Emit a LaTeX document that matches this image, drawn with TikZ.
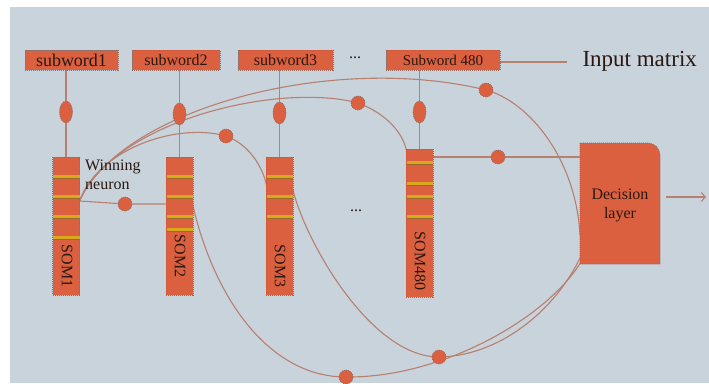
\documentclass[tikz,border=0pt]{standalone}
\usepackage{fontspec}
\setmainfont{Liberation Serif}
\usetikzlibrary{arrows.meta,shapes.geometric}
\definecolor{bgc}{HTML}{C8D3DB}
\definecolor{boxc}{HTML}{DA6040}
\definecolor{bordc}{HTML}{8E6A62}
\definecolor{linec}{HTML}{B8806F}
\definecolor{txtc}{HTML}{2A1812}
\definecolor{goldc}{HTML}{D9A81C}
\definecolor{golddk}{HTML}{9A6A2A}
\pgfdeclarelayer{bglayer}
\pgfdeclarelayer{lines}
\pgfsetlayers{bglayer,lines,main}
\begin{document}
\begin{tikzpicture}[x=1pt,y=-1pt,
  box/.style={rectangle,fill=boxc,draw=bordc,dash pattern=on 1pt off 1pt,line width=0.6pt,inner sep=0pt,text=txtc},
  ell/.style={ellipse,fill=boxc,draw=bordc,dash pattern=on 1pt off 1pt,line width=0.6pt,minimum width=13pt,minimum height=22pt,inner sep=0pt},
  dotn/.style={circle,fill=boxc,draw=bordc,dash pattern=on 1pt off 1pt,line width=0.6pt,minimum size=14pt,inner sep=0pt},
  somcol/.style={box,minimum width=27pt},
  conn/.style={draw=linec,line width=1.1pt},
  bar/.style={draw=goldc,line width=3pt},
  bardk/.style={draw=golddk,line width=0.8pt},
  somlab/.style={rotate=-90,text=txtc,font=\fontsize{16}{16}\selectfont},
]
\useasboundingbox (0,0) rectangle (709,383);
\begin{pgfonlayer}{bglayer}
  \fill[white] (0,0) rectangle (709,383);
  \fill[bgc] (10,7) rectangle (709,383);
\end{pgfonlayer}

% input boxes
\node[box,minimum width=93pt,minimum height=20pt,font=\fontsize{18}{18}\selectfont] (sw1) at (71.5,60) {subword1};
\node[box,minimum width=88pt,minimum height=20pt,font=\fontsize{16}{16}\selectfont] (sw2) at (176,60) {subword2};
\node[box,minimum width=95pt,minimum height=20pt,font=\fontsize{16}{16}\selectfont] (sw3) at (285.5,60) {subword3};
\node[box,minimum width=114pt,minimum height=20pt,font=\fontsize{15}{15}\selectfont] (sw4) at (443,60) {Subword 480};
\node[text=txtc,font=\fontsize{16}{16}\selectfont] (dots1) at (355,58) {...};
\node[text=txtc,font=\fontsize{23}{23}\selectfont,anchor=west] (inmat) at (579,61) {Input matrix};
\coordinate (inmatL) at (567,62);

% SOM columns
\node[somcol,minimum height=138pt] (s1) at (66,226) {};
\node[somcol,minimum height=138pt] (s2) at (179.5,226) {};
\node[somcol,minimum height=138pt] (s3) at (279.5,226) {};
\node[somcol,minimum height=148pt] (s4) at (419.5,223) {};
\foreach \y in {176,196,216,237} {\draw[bar] (52.5,\y) -- (79.5,\y); \draw[bardk] (52.5,\y+2) -- (79.5,\y+2);}
\foreach \y in {176,196,216,229} {\draw[bar] (166.5,\y) -- (193,\y); \draw[bardk] (166.5,\y+2) -- (193,\y+2);}
\foreach \y in {176,196,216} {\draw[bar] (266.5,\y) -- (293,\y); \draw[bardk] (266.5,\y+2) -- (293,\y+2);}
\foreach \y in {162,183,196,216} {\draw[bar] (406.5,\y) -- (433,\y); \draw[bardk] (406.5,\y+2) -- (433,\y+2);}
\node[somlab] (l1) at (67,266) {SOM1};
\node[somlab] (l2) at (180,256) {SOM2};
\node[somlab] (l3) at (280,266) {SOM3};
\node[somlab] (l4) at (420,261) {SOM480};
\node[text=txtc,font=\fontsize{16}{16}\selectfont] (dots2) at (356,211) {...};

% winning neuron label
\node[text=txtc,font=\fontsize{16}{19}\selectfont,align=left,anchor=west,inner sep=0pt] (win) at (85,175) {Winning\\neuron};

% ellipses
\node[ell] (e1) at (66,112) {};
\node[ell] (e2) at (179.5,114) {};
\node[ell] (e3) at (279.5,113) {};
\node[ell] (e4) at (419.5,112) {};

% decision layer
\node[minimum width=80pt,minimum height=121pt,inner sep=0pt] (dec) at (620,203.5) {};
\fill[boxc] (580,264) -- (580,143) -- (648,143) .. controls (654.6,143) and (660,148.4) .. (660,155) -- (660,264) -- cycle;
\draw[bordc,dash pattern=on 1pt off 1pt,line width=0.6pt] (580,264) -- (580,143) -- (648,143) .. controls (654.6,143) and (660,148.4) .. (660,155) -- (660,264) -- cycle;
\node[text=txtc,font=\fontsize{16}{19}\selectfont,align=center] (dectext) at (620,205) {Decision\\layer};
\coordinate (arrS) at (666,197);
\coordinate (arrE) at (706,197);

% dots
\node[dotn] (d1) at (125,204) {};
\node[dotn] (d2) at (498,157) {};
\node[dotn] (d3) at (226,136) {};
\node[dotn] (d4) at (358,103) {};
\node[dotn] (d5) at (486,90) {};
\node[dotn] (d6) at (346,377) {};
\node[dotn] (d7) at (439,357) {};

\coordinate (w1) at (79.5,201);
\coordinate (s2out) at (193,206);
\coordinate (s3out) at (293,190);
\coordinate (s3in) at (266.5,185);
\coordinate (s4in) at (406.5,151);
\coordinate (decA) at (580,235);
\coordinate (decB) at (581,262);
\coordinate (decC) at (580,258);

\begin{pgfonlayer}{lines}
  \draw[conn] (s1.north |- sw1.south) -- (s1.north);
  \draw[conn] (s2.north |- sw2.south) -- (s2.north);
  \draw[conn] (s3.north |- sw3.south) -- (s3.north);
  \draw[conn] (s4.north |- sw4.south) -- (s4.north);
  \draw[conn] (sw4.east |- inmatL) -- (inmatL);
  \draw[conn] (w1 -| s1.east) -- (d1) -- (d1 -| s2.west);
  \draw[conn] (s4.east |- d2) -- (d2) -- (d2 -| dec.west);
  \draw[conn] (w1) .. controls (120,110) and (330,52) .. (d5.center) .. controls (530,102) and (576,160) .. (decA);
  \draw[conn] (w1) .. controls (115,120) and (280,82) .. (d4.center) .. controls (385,113) and (403,132) .. (s4in);
  \draw[conn] (w1) .. controls (98,150) and (175,122) .. (d3.center) .. controls (248,144) and (262,165) .. (s3in);
  \draw[conn] (s2out) .. controls (215,300) and (270,377) .. (d6.center) .. controls (440,378) and (545,320) .. (decB);
  \draw[conn] (s3out) .. controls (305,240) and (370,357) .. (d7.center) .. controls (500,356) and (555,310) .. (decC);
  \draw[conn,-{Straight Barb[length=4pt,width=9pt]}] (arrS) -- (arrE);
\end{pgfonlayer}
\end{tikzpicture}
\end{document}
